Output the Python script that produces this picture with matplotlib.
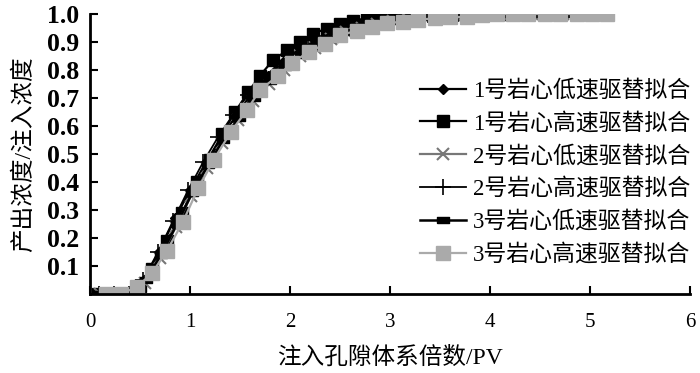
import matplotlib
matplotlib.use("Agg")
import matplotlib.pyplot as plt
from matplotlib.ticker import FixedLocator

plt.rcParams['font.family'] = ['Liberation Serif', 'Noto Sans CJK SC', 'DejaVu Sans']

labels = ["1号岩心低速驱替拟合", "1号岩心高速驱替拟合", "2号岩心低速驱替拟合",
          "2号岩心高速驱替拟合", "3号岩心低速驱替拟合", "3号岩心高速驱替拟合"]

pv_1L = [0.08, 0.23, 0.38, 0.54, 0.69, 0.85, 1.00, 1.16, 1.31, 1.47, 1.62, 1.78, 1.93,
         2.09, 2.24, 2.40, 2.55, 2.71, 2.86, 3.02, 3.17, 3.33, 3.48, 3.64, 3.79, 3.95,
         4.10, 4.26, 4.41, 4.57, 4.72, 4.88, 5.03, 5.17]
c_1L = [0.0, 0.0, 0.0, 0.05, 0.15, 0.27, 0.37, 0.47, 0.56, 0.64, 0.72, 0.78, 0.83,
        0.87, 0.90, 0.93, 0.95, 0.965, 0.975, 0.985, 0.99, 0.995, 0.997, 1.0, 1.0, 1.0,
        1.0, 1.0, 1.0, 1.0, 1.0, 1.0, 1.0, 1.0]

pv_1H = [0.08, 0.23, 0.38, 0.50, 0.62, 0.77, 0.92, 1.07, 1.20, 1.32, 1.45, 1.58, 1.70,
         1.83, 1.97, 2.10, 2.23, 2.37, 2.50, 2.63, 2.77, 2.90, 3.03, 3.17, 3.30, 3.43,
         3.57, 3.70, 3.83, 3.97, 4.10, 4.23, 4.37]
c_1H = [0.0, 0.0, 0.0, 0.03, 0.09, 0.19, 0.29, 0.40, 0.48, 0.57, 0.65, 0.72, 0.78,
        0.835, 0.87, 0.90, 0.93, 0.948, 0.964, 0.976, 0.985, 0.993, 0.997, 1.0, 1.0, 1.0,
        1.0, 1.0, 1.0, 1.0, 1.0, 1.0, 1.0]

pv_2L = [0.10, 0.25, 0.40, 0.55, 0.70, 0.86, 1.01, 1.17, 1.32, 1.48, 1.63, 1.79, 1.94,
         2.10, 2.25, 2.41, 2.56, 2.72, 2.87, 3.03, 3.18, 3.34, 3.49, 3.65, 3.80, 3.96,
         4.11, 4.27, 4.42, 4.58, 4.73, 4.89, 5.04]
c_2L = [0.0, 0.0, 0.0, 0.04, 0.13, 0.24, 0.35, 0.45, 0.54, 0.62, 0.69, 0.75, 0.80,
        0.85, 0.88, 0.91, 0.935, 0.95, 0.965, 0.975, 0.982, 0.988, 0.993, 0.996, 1.0, 1.0,
        1.0, 1.0, 1.0, 1.0, 1.0, 1.0, 1.0]

pv_2H = [0.09, 0.24, 0.39, 0.53, 0.68, 0.83, 0.98, 1.13, 1.28, 1.43, 1.58, 1.73, 1.88,
         2.03, 2.18, 2.33, 2.48, 2.63, 2.78, 2.93, 3.08, 3.23, 3.38, 3.53, 3.68, 3.83,
         3.98, 4.13, 4.28, 4.43, 4.58, 4.73, 4.88, 5.03]
c_2H = [0.0, 0.0, 0.0, 0.05, 0.15, 0.26, 0.37, 0.47, 0.56, 0.64, 0.71, 0.77, 0.82,
        0.86, 0.89, 0.92, 0.94, 0.96, 0.97, 0.98, 0.987, 0.992, 0.996, 1.0, 1.0, 1.0,
        1.0, 1.0, 1.0, 1.0, 1.0, 1.0, 1.0, 1.0]

pv_3L = [0.10, 0.25, 0.40, 0.56, 0.71, 0.87, 1.02, 1.18, 1.33, 1.49, 1.64, 1.80, 1.95,
         2.11, 2.26, 2.42, 2.57, 2.73, 2.88, 3.04, 3.19, 3.35, 3.50, 3.66, 3.81, 3.97,
         4.12, 4.28, 4.43, 4.59, 4.74, 4.90, 5.05]
c_3L = [0.0, 0.0, 0.0, 0.05, 0.14, 0.25, 0.36, 0.46, 0.55, 0.63, 0.70, 0.76, 0.81,
        0.855, 0.885, 0.91, 0.935, 0.952, 0.965, 0.975, 0.983, 0.99, 0.995, 1.0, 1.0, 1.0,
        1.0, 1.0, 1.0, 1.0, 1.0, 1.0, 1.0]

pv_3H = [0.16, 0.31, 0.47, 0.62, 0.77, 0.93, 1.08, 1.24, 1.41, 1.57, 1.70, 1.88, 2.02,
         2.19, 2.35, 2.50, 2.67, 2.82, 2.97, 3.13, 3.28, 3.45, 3.60, 3.77, 3.92, 4.07,
         4.23, 4.38, 4.55, 4.70, 4.87, 5.02, 5.17]
c_3H = [0.0, 0.0, 0.026, 0.074, 0.155, 0.258, 0.377, 0.48, 0.58, 0.657, 0.729, 0.779, 0.826,
        0.865, 0.892, 0.925, 0.94, 0.952, 0.967, 0.973, 0.979, 0.985, 0.988, 0.99, 0.996, 1.0,
        1.0, 1.0, 1.0, 1.0, 1.0, 1.0, 1.0]

xticks = [0, 1, 2, 3, 4, 5, 6]
yticks = [0.1, 0.2, 0.3, 0.4, 0.5, 0.6, 0.7, 0.8, 0.9, 1.0]

rect = [(-1, -0.45), (1, -0.45), (1, 0.45), (-1, 0.45), (-1, -0.45)]

fig = plt.figure(figsize=(7.0, 3.73), dpi=100)
ax = fig.add_axes([90/700, (373-294)/373, 600/700, 280/373])

ax.plot(pv_1L, c_1L, color='black', lw=1.6, marker='D', ms=5.5, mfc='black', mec='black', label=labels[0])
ax.plot(pv_1H, c_1H, color='black', lw=1.6, marker='s', ms=8.5, mfc='black', mec='black', label=labels[1])
ax.plot(pv_2L, c_2L, color='#777777', lw=1.6, marker='x', ms=8, mew=1.5, label=labels[2])
ax.plot(pv_2H, c_2H, color='black', lw=1.3, marker='+', ms=12, mew=1.2, label=labels[3])
ax.plot(pv_3L, c_3L, color='black', lw=1.8, marker=rect, ms=9, mfc='black', mec='black', label=labels[4])
ax.plot(pv_3H, c_3H, color='#aaaaaa', lw=1.6, marker='s', ms=9.5, mfc='#aaaaaa', mec='#aaaaaa', label=labels[5])

ax.set_xlim(0, 6)
ax.set_ylim(0, 1.0)
ax.xaxis.set_major_locator(FixedLocator(xticks))
ax.yaxis.set_major_locator(FixedLocator(yticks))
ax.set_yticklabels([f"{v:.1f}" for v in yticks], fontweight='bold')
ax.tick_params(direction='in', length=6, width=1.5, colors='black')
ax.tick_params(axis='x', pad=14, labelsize=15)
ax.tick_params(axis='y', pad=8, labelsize=18.5)
for s in ['top', 'right']:
    ax.spines[s].set_visible(False)
for s in ['left', 'bottom']:
    ax.spines[s].set_linewidth(2)

ax.set_xlabel("注入孔隙体系倍数/PV", fontsize=17, labelpad=10)
ax.set_ylabel("产出浓度/注入浓度", fontsize=17, labelpad=8)

leg = ax.legend(loc='upper right', bbox_to_anchor=(1.0, 0.765), frameon=False, fontsize=16.5,
                handlelength=2.0, handletextpad=0.3, labelspacing=0.48, borderpad=0,
                borderaxespad=0)

fig.savefig("out.png", dpi=100)
